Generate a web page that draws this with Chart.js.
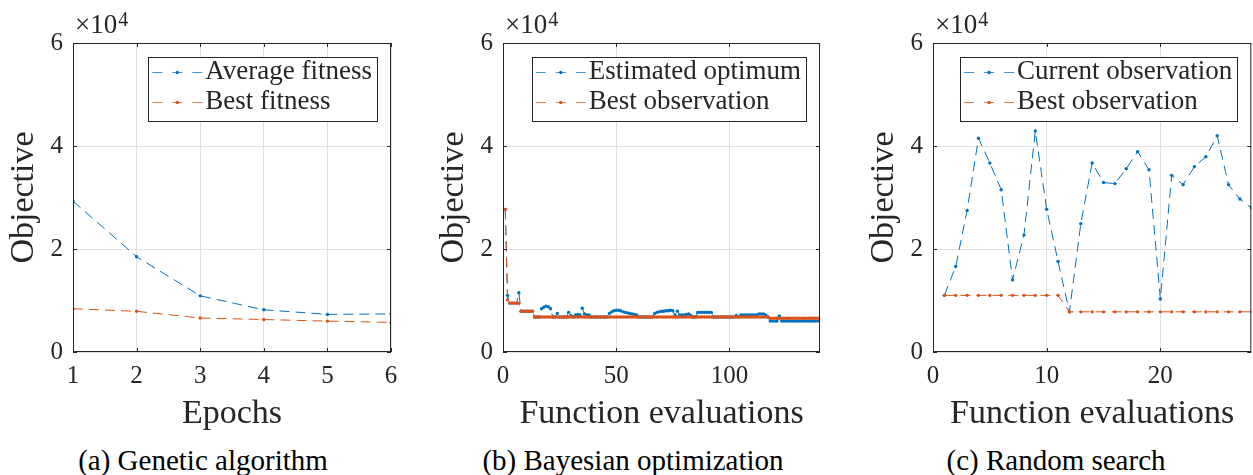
<!DOCTYPE html>
<html>
<head>
<meta charset="utf-8">
<script src="https://cdn.jsdelivr.net/npm/chart.js@4.4.1/dist/chart.umd.min.js"></script>
<style>
  body { margin: 0; background: #fff; width: 1253px; height: 475px; position: relative; overflow: hidden; font-family: "Liberation Serif", "DejaVu Serif", "Times New Roman", Times, serif; }
  canvas { position: absolute; top: 0; }
  .caption { position: absolute; top: 446px; font-size: 29px; line-height: 29px; color: #000; white-space: nowrap; transform: translateX(-50%); }
</style>
</head>
<body>
<canvas id="gaChart" width="411" height="440" style="left:0px"></canvas>
<canvas id="bayesChart" width="410" height="440" style="left:430px"></canvas>
<canvas id="randomChart" width="393" height="440" style="left:860px"></canvas>
<div class="caption" style="left:203px">(a) Genetic algorithm</div>
<div class="caption" style="left:633px">(b) Bayesian optimization</div>
<div class="caption" style="left:1056px">(c) Random search</div>
<script>
// Genetic algorithm, one value per epoch
const epochs = [1, 2, 3, 4, 5, 6];
const gaAverage = [29300, 18500, 10900, 8200, 7300, 7400];
const gaBest = [8400, 7900, 6600, 6300, 6000, 5750];

// Bayesian optimization, one value per function evaluation (1..140)
const bayesEstimated = [
  27700, 11000, 9500, 9500, 9500, 9500, 11500, 7900, 7900, 7900,
  7900, 7900, 7900, 6800, 6800, 6800, 8400, 8700, 8900, 8800,
  8400, 6800, 6800, 7500, 6800, 6800, 6800, 6800, 7700, 7100,
  6800, 7200, 7300, 7200, 8500, 7400, 7200, 7200, 6800, 6800,
  6800, 6800, 6800, 6800, 6800, 6800, 7500, 7800, 8000, 8100,
  8100, 8000, 7800, 7700, 7600, 7500, 7400, 7300, 7200, 6800,
  6800, 6800, 6800, 6800, 6800, 6800, 7500, 7700, 7800, 7900,
  7900, 8000, 8000, 8100, 8000, 7200, 7900, 7200, 7200, 7200,
  7300, 7400, 7100, 6800, 6800, 7700, 7700, 7700, 7700, 7700,
  7700, 7700, 6800, 6800, 6800, 6800, 6800, 6800, 6800, 6800,
  6800, 6800, 7100, 6800, 7200, 7200, 7200, 7200, 7200, 7200,
  7200, 7200, 7400, 7400, 7400, 7200, 6800, 6000, 6000, 6000,
  6000, 7000, 6000, 6000, 6000, 6000, 6000, 6000, 6000, 6000,
  6000, 6000, 6000, 6000, 6000, 6000, 6000, 6000, 6000, 6000
];
const bayesBest = [
  27700, 10100, 9500, 9500, 9500, 9500, 9500, 7900, 7900, 7900,
  7900, 7900, 7900, 6800, 6800, 6800, 6800, 6800, 6800, 6800,
  6800, 6800, 6800, 6800, 6800, 6800, 6800, 6800, 6800, 6800,
  6800, 6800, 6800, 6800, 6800, 6800, 6800, 6800, 6800, 6800,
  6800, 6800, 6800, 6800, 6800, 6800, 6800, 6800, 6800, 6800,
  6800, 6800, 6800, 6800, 6800, 6800, 6800, 6800, 6800, 6800,
  6800, 6800, 6800, 6800, 6800, 6800, 6800, 6800, 6800, 6800,
  6800, 6800, 6800, 6800, 6800, 6800, 6800, 6800, 6800, 6800,
  6800, 6800, 6800, 6800, 6800, 6800, 6800, 6800, 6800, 6800,
  6800, 6800, 6800, 6800, 6800, 6800, 6800, 6800, 6800, 6800,
  6800, 6800, 6800, 6800, 6800, 6800, 6800, 6800, 6800, 6800,
  6800, 6800, 6800, 6800, 6800, 6800, 6800, 6550, 6550, 6550,
  6550, 6550, 6550, 6550, 6550, 6550, 6550, 6550, 6550, 6550,
  6550, 6550, 6550, 6550, 6550, 6550, 6550, 6550, 6550, 6550
];

// Random search, one value per function evaluation (1..28)
const randomCurrent = [
  11000, 16600, 27500, 41500, 36700, 31500, 14000, 22700, 42900, 27700,
  17600, 7800, 24900, 36700, 32900, 32700, 35600, 38900, 35400, 10300,
  34300, 32500, 36000, 37900, 42000, 32500, 29700, 28000
];
const randomBest = [
  11000, 11000, 11000, 11000, 11000, 11000, 11000, 11000, 11000, 11000,
  11000, 7800, 7800, 7800, 7800, 7800, 7800, 7800, 7800, 7800,
  7800, 7800, 7800, 7800, 7800, 7800, 7800, 7800
];

// tick positions
const objectiveTicks = [0, 20000, 40000, 60000];
const epochTicks = [1, 2, 3, 4, 5, 6];
const bayesTicks = [0, 50, 100];
const randomTicks = [0, 10, 20];

const BLUE = '#0072BD';
const ORANGE = '#D95319';
const INK = '#262626';
const FONT = '"Liberation Serif", "DejaVu Serif", "Times New Roman", Times, serif';

Chart.defaults.font.family = FONT;
Chart.defaults.color = INK;

function series(values, xs) {
  return values.map((v, i) => ({ x: xs ? xs[i] : i + 1, y: v }));
}

function lineSet(label, color, points, order) {
  return {
    label: label,
    data: points,
    borderColor: color,
    backgroundColor: color,
    borderWidth: 1,
    borderDash: [10, 6],
    pointRadius: 1.7,
    pointBorderWidth: 0,
    pointBackgroundColor: color,
    pointHoverRadius: 0,
    tension: 0,
    order: order
  };
}

// box, inward tick marks, x10^4 exponent and the boxed legend
const axesDecor = {
  id: 'axesDecor',
  afterDraw(chart) {
    const { ctx, chartArea: a, scales } = chart;
    ctx.save();
    ctx.strokeStyle = INK;
    ctx.lineWidth = 1;
    ctx.strokeRect(a.left + 0.5, a.top + 0.5, a.right - a.left - 1, a.bottom - a.top - 1);

    // inward ticks on all four sides
    ctx.beginPath();
    scales.x.ticks.forEach(t => {
      const px = Math.round(scales.x.getPixelForValue(t.value)) + 0.5;
      ctx.moveTo(px, a.bottom); ctx.lineTo(px, a.bottom - 4);
      ctx.moveTo(px, a.top); ctx.lineTo(px, a.top + 4);
    });
    scales.y.ticks.forEach(t => {
      const py = Math.round(scales.y.getPixelForValue(t.value)) + 0.5;
      ctx.moveTo(a.left, py); ctx.lineTo(a.left + 4, py);
      ctx.moveTo(a.right, py); ctx.lineTo(a.right - 4, py);
    });
    ctx.stroke();

    // exponent label above the y axis
    ctx.fillStyle = INK;
    ctx.textBaseline = 'alphabetic';
    ctx.textAlign = 'left';
    ctx.font = '27px ' + FONT;
    ctx.fillText('\u00d710', a.left + 2, a.top - 10);
    const w = ctx.measureText('\u00d710').width;
    ctx.font = '20px ' + FONT;
    ctx.fillText('4', a.left + 3 + w, a.top - 17);

    // legend
    ctx.font = '27px ' + FONT;
    const sets = chart.data.datasets;
    const textW = Math.max(...sets.map(d => ctx.measureText(d.label).width));
    const boxW = 57 + textW + 5;
    const boxH = 64;
    const bx = a.right - 14 - boxW;
    const by = a.top + 14;
    ctx.fillStyle = '#fff';
    ctx.fillRect(bx, by, boxW, boxH);
    ctx.strokeStyle = INK;
    ctx.strokeRect(Math.round(bx) + 0.5, by + 0.5, Math.round(boxW), boxH);
    sets.forEach((d, i) => {
      const ry = by + 15 + i * 30;
      ctx.save();
      ctx.strokeStyle = d.borderColor;
      ctx.globalAlpha = 0.75;
      ctx.setLineDash([10, 10]);
      ctx.beginPath();
      ctx.moveTo(bx + 4, ry + 0.5);
      ctx.lineTo(bx + 54, ry + 0.5);
      ctx.stroke();
      ctx.restore();
      ctx.fillStyle = d.borderColor;
      ctx.beginPath();
      ctx.arc(bx + 29, ry + 0.5, 1.7, 0, Math.PI * 2);
      ctx.fill();
      ctx.fillStyle = INK;
      ctx.textBaseline = 'middle';
      ctx.fillText(d.label, bx + 57, ry);
    });
    ctx.restore();
  }
};

function makeChart(id, datasets, xMin, xMax, xTicks, xTitle, rightPad) {
  return new Chart(document.getElementById(id), {
    type: 'line',
    data: { datasets: datasets },
    options: {
      responsive: false,
      animation: false,
      events: [],
      layout: { padding: { top: 43, right: rightPad, left: 0, bottom: 0 } },
      plugins: { legend: { display: false }, tooltip: { enabled: false } },
      scales: {
        x: {
          type: 'linear',
          min: xMin,
          max: xMax,
          afterBuildTicks: s => { s.ticks = xTicks.map(v => ({ value: v })); },
          afterFit: s => { s.height = 88; },
          grid: { color: '#e0e0e0', drawTicks: false },
          border: { display: false },
          ticks: { padding: 9, font: { size: 25 }, color: INK, maxRotation: 0 },
          title: { display: true, text: xTitle, font: { size: 34 }, color: INK, padding: { top: 0, bottom: 6 } }
        },
        y: {
          min: 0,
          max: 60000,
          afterBuildTicks: s => { s.ticks = objectiveTicks.map(v => ({ value: v })); },
          afterFit: s => { s.width = 73; },
          grid: { color: '#e0e0e0', drawTicks: false },
          border: { display: false },
          ticks: { padding: 10, font: { size: 25 }, color: INK, callback: v => String(v / 10000) },
          title: { display: true, text: 'Objective', font: { size: 34 }, color: INK, padding: { top: 4, bottom: 0 } }
        }
      }
    },
    plugins: [axesDecor]
  });
}

makeChart('gaChart', [
  lineSet('Average fitness', BLUE, series(gaAverage, epochs), 1),
  lineSet('Best fitness', ORANGE, series(gaBest, epochs), 0)
], 1, 6, epochTicks, 'Epochs', 20);

makeChart('bayesChart', [
  lineSet('Estimated optimum', BLUE, series(bayesEstimated), 1),
  lineSet('Best observation', ORANGE, series(bayesBest), 0)
], 0, 140, bayesTicks, 'Function evaluations', 20);

makeChart('randomChart', [
  lineSet('Current observation', BLUE, series(randomCurrent), 1),
  lineSet('Best observation', ORANGE, series(randomBest), 0)
], 0, 28, randomTicks, 'Function evaluations', 1);
</script>
</body>
</html>
